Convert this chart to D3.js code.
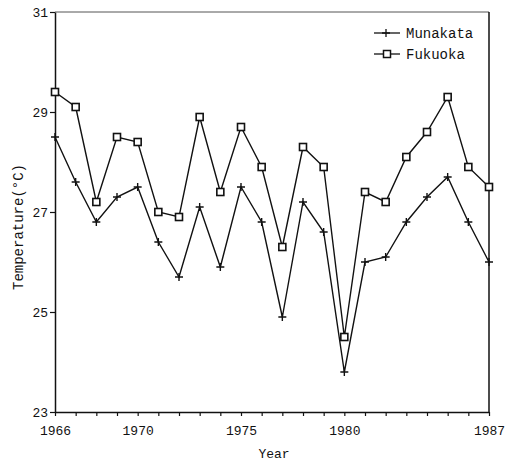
<!DOCTYPE html>
<html>
<head>
<meta charset="utf-8">
<script src="https://cdn.jsdelivr.net/npm/d3@7"></script>
<style>
  body { margin: 0; background: #fff; }
  text { font-family: "Liberation Mono", "DejaVu Sans Mono", monospace; fill: #111; }
</style>
</head>
<body>
<div id="chart"></div>
<script>
// Chart data
let years = d3.range(1966, 1988);
let munakata = [28.5, 27.6, 26.8, 27.3, 27.5, 26.4, 25.7, 27.1, 25.9, 27.5, 26.8,
                24.9, 27.2, 26.6, 23.8, 26.0, 26.1, 26.8, 27.3, 27.7, 26.8, 26.0];
let fukuoka = [29.4, 29.1, 27.2, 28.5, 28.4, 27.0, 26.9, 28.9, 27.4, 28.7, 27.9,
               26.3, 28.3, 27.9, 24.5, 27.4, 27.2, 28.1, 28.6, 29.3, 27.9, 27.5];
let xTickLabels = [1966, 1970, 1975, 1980, 1987];
let yTickLabels = [23, 25, 27, 29, 31];
let seriesNames = ["Munakata", "Fukuoka"];

// SVG area
let svgWidth = 508;
let svgHeight = 461;

let margin = { top: 12, right: 19, bottom: 49, left: 55 };
let chartWidth = svgWidth - margin.left - margin.right;
let chartHeight = svgHeight - margin.top - margin.bottom;

let svg = d3.select("#chart")
  .append("svg")
  .attr("width", svgWidth)
  .attr("height", svgHeight);

let chartGroup = svg.append("g")
  .attr("transform", `translate(${margin.left}, ${margin.top})`);

let xScale = d3.scaleLinear()
  .domain([1966, 1987])
  .range([0, chartWidth]);

let yScale = d3.scaleLinear()
  .domain([23, 31])
  .range([chartHeight, 0]);

// frame: top and right lines
chartGroup.append("line")
  .attr("x1", 0).attr("x2", chartWidth)
  .attr("y1", 0).attr("y2", 0)
  .attr("stroke", "#555").attr("stroke-width", 1);
chartGroup.append("line")
  .attr("x1", chartWidth).attr("x2", chartWidth)
  .attr("y1", 0).attr("y2", chartHeight)
  .attr("stroke", "#111").attr("stroke-width", 1.5);

// axes
let bottomAxis = d3.axisBottom(xScale)
  .tickValues(years)
  .tickSize(4)
  .tickSizeOuter(0)
  .tickFormat(d => xTickLabels.includes(d) ? d : "");

let leftAxis = d3.axisLeft(yScale)
  .tickValues(yTickLabels)
  .tickSize(5)
  .tickSizeOuter(0)
  .tickPadding(2);

let xAxisG = chartGroup.append("g")
  .attr("transform", `translate(0, ${chartHeight})`)
  .call(bottomAxis);
xAxisG.selectAll("text")
  .attr("font-size", 13)
  .attr("font-family", "Liberation Mono")
  .attr("dy", "1.2em");

let yAxisG = chartGroup.append("g")
  .call(leftAxis);
yAxisG.selectAll("text")
  .attr("font-size", 13)
  .attr("font-family", "Liberation Mono");

chartGroup.selectAll(".domain").attr("stroke", "#111").attr("stroke-width", 1.5);
chartGroup.selectAll(".tick line").attr("stroke", "#111").attr("stroke-width", 1.2);

// axis titles
svg.append("text")
  .attr("x", margin.left + xScale(1976.6))
  .attr("y", 458)
  .attr("text-anchor", "middle")
  .attr("font-size", 13)
  .text("Year");

svg.append("text")
  .attr("transform", `translate(23, ${margin.top + yScale(26.7)}) rotate(-90)`)
  .attr("text-anchor", "middle")
  .attr("font-size", 14)
  .text("Temperature(°C)");

// lines
let drawLine = d3.line()
  .x((d, i) => xScale(years[i]))
  .y(d => yScale(d));

chartGroup.append("path")
  .attr("d", drawLine(munakata))
  .attr("fill", "none")
  .attr("stroke", "#111")
  .attr("stroke-width", 1.4);

chartGroup.append("path")
  .attr("d", drawLine(fukuoka))
  .attr("fill", "none")
  .attr("stroke", "#111")
  .attr("stroke-width", 1.4);

// markers
let plusPath = "M-4,0H4M0,-4V4";

chartGroup.selectAll(".plus")
  .data(munakata)
  .enter()
  .append("path")
  .classed("plus", true)
  .attr("transform", (d, i) => `translate(${xScale(years[i])}, ${yScale(d)})`)
  .attr("d", plusPath)
  .attr("stroke", "#111")
  .attr("stroke-width", 1.4);

chartGroup.selectAll(".box")
  .data(fukuoka)
  .enter()
  .append("rect")
  .classed("box", true)
  .attr("x", (d, i) => xScale(years[i]) - 3.5)
  .attr("y", d => yScale(d) - 3.5)
  .attr("width", 7)
  .attr("height", 7)
  .attr("fill", "#fff")
  .attr("stroke", "#111")
  .attr("stroke-width", 1.6);

// legend
let legend = svg.append("g");
let legendY = [33, 54];

seriesNames.forEach(function(name, i) {
  let y = legendY[i];
  legend.append("line")
    .attr("x1", 374).attr("x2", 400)
    .attr("y1", y).attr("y2", y)
    .attr("stroke", "#111").attr("stroke-width", 1.3);
  if (i === 0) {
    legend.append("path")
      .attr("transform", `translate(386, ${y})`)
      .attr("d", plusPath)
      .attr("stroke", "#111").attr("stroke-width", 1.3);
  } else {
    legend.append("rect")
      .attr("x", 383.5).attr("y", y - 3.5)
      .attr("width", 7).attr("height", 7)
      .attr("fill", "#fff").attr("stroke", "#111").attr("stroke-width", 1.5);
  }
  legend.append("text")
    .attr("x", 406)
    .attr("y", y + 5)
    .attr("font-size", 14)
    .text(name);
});
</script>
</body>
</html>
